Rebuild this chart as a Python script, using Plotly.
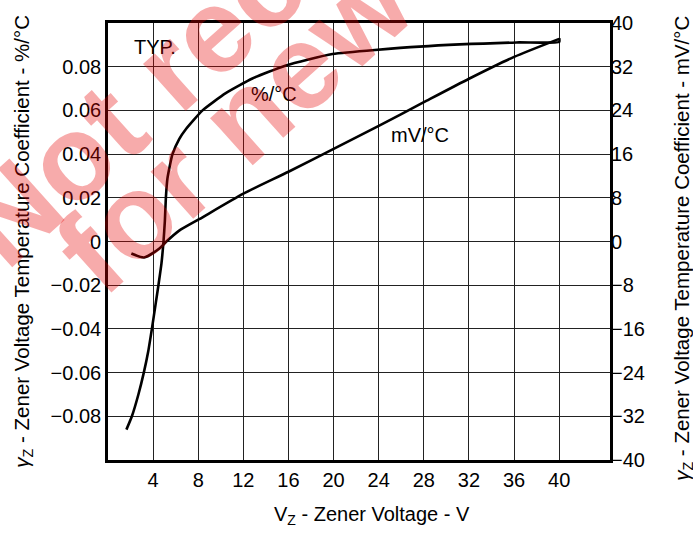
import plotly.graph_objects as go

# ---- data ----
vz_pct = [1.63, 2.11, 2.70, 3.18, 3.56, 3.89, 4.24, 4.47, 4.74, 4.92, 5.04, 5.13, 5.27, 5.71,
          6.31, 6.9, 8.38, 10.44, 12.8, 15.77, 19.9, 27.6, 36.2, 40.0, 40.0]
tc_pct = [-0.0861, -0.0801, -0.0699, -0.0599, -0.0505, -0.040, -0.028, -0.020, -0.010, 0.0,
          0.0094, 0.020, 0.0289, 0.0399, 0.0469, 0.0514, 0.060, 0.0679, 0.0746, 0.0806,
          0.0858, 0.0892, 0.0911, 0.0914, 0.0931]

vz_mv = [2.07, 3.2, 4.53, 5.13, 6.31, 8.08, 12, 16, 20, 24, 28, 32, 36, 40]
tc_mv = [-2.2, -2.93, -1.31, -0.1, 1.98, 4.08, 8.76, 12.77, 16.97, 21.16, 25.5, 29.8, 33.8, 37.1]

x_ticks = [4, 8, 12, 16, 20, 24, 28, 32, 36, 40]
y_left_ticks = [-0.08, -0.06, -0.04, -0.02, 0, 0.02, 0.04, 0.06, 0.08]
y_left_text = ["\u22120.08", "\u22120.06", "\u22120.04", "\u22120.02", "0", "0.02", "0.04", "0.06", "0.08"]
y_right_ticks = [-40, -32, -24, -16, -8, 0, 8, 16, 24, 32, 40]
y_right_text = ["\u221240", "\u221232", "\u221224", "\u221216", "\u22128", "0", "8", "16", "24", "32", "40"]

FONT = "Liberation Sans, Arial, sans-serif"
FS = 20

fig = go.Figure()
fig.add_trace(go.Scatter(x=vz_pct, y=tc_pct, mode="lines",
                         line=dict(color="black", width=2.6, shape="spline", smoothing=0.5),
                         yaxis="y", showlegend=False, hoverinfo="skip"))
fig.add_trace(go.Scatter(x=vz_mv, y=tc_mv, mode="lines",
                         line=dict(color="black", width=2.6, shape="spline", smoothing=0.6),
                         yaxis="y2", showlegend=False, hoverinfo="skip"))

fig.update_layout(
    width=693, height=533,
    margin=dict(l=108, r=83, t=15, b=73),
    paper_bgcolor="white", plot_bgcolor="white",
    font=dict(family=FONT, size=FS, color="black"),
    xaxis=dict(range=[0, 44.5], tickvals=x_ticks, ticktext=[str(v) for v in x_ticks],
               showgrid=True, gridcolor="#222", gridwidth=1, zeroline=False,
               showline=True, linecolor="black", linewidth=2.6, mirror=True,
               ticks="", tickfont=dict(size=FS), fixedrange=True),
    yaxis=dict(range=[-0.1, 0.1], tickvals=y_left_ticks, ticktext=y_left_text,
               showgrid=True, gridcolor="#222", gridwidth=1, zeroline=False,
               showline=True, linecolor="black", linewidth=2.6, mirror=True,
               ticks="", tickfont=dict(size=FS), fixedrange=True),
    yaxis2=dict(range=[-40, 40], tickvals=y_right_ticks, ticktext=y_right_text,
                overlaying="y", side="right", showgrid=False, zeroline=False,
                showline=False, ticks="", tickfont=dict(size=FS), fixedrange=True),
)

anns = []
# in-plot labels
anns.append(dict(text="TYP.", x=4.17, y=0.089, xref="x", yref="y", showarrow=False,
                 font=dict(size=FS), xanchor="center", yanchor="middle"))
anns.append(dict(text="%/\u00b0C", x=14.7, y=0.0676, xref="x", yref="y", showarrow=False,
                 font=dict(size=FS), xanchor="center", yanchor="middle"))
anns.append(dict(text="mV/\u00b0C", x=27.7, y=0.0486, xref="x", yref="y", showarrow=False,
                 font=dict(size=FS), xanchor="center", yanchor="middle"))
# axis titles
anns.append(dict(text="V<sub>Z</sub> - Zener Voltage - V", x=0.526, y=-0.128,
                 xref="paper", yref="paper", showarrow=False, font=dict(size=FS),
                 xanchor="center", yanchor="middle"))
anns.append(dict(text="<i>\u03b3</i><sub>Z</sub> - Zener Voltage Temperature Coefficient - %/\u00b0C",
                 x=-0.171, y=0.5, xref="paper", yref="paper", showarrow=False,
                 font=dict(size=20.5), textangle=-90, xanchor="center", yanchor="middle"))
anns.append(dict(text="<i>\u03b3</i><sub>Z</sub> - Zener Voltage Temperature Coefficient - mV/\u00b0C",
                 x=1.145, y=0.485, xref="paper", yref="paper", showarrow=False,
                 font=dict(size=20.5), textangle=-90, xanchor="center", yanchor="middle"))
# watermark
wm_color = "rgba(230,0,0,0.33)"
anns.append(dict(text="<b>Not recommended</b>", x=0.521, y=1.306, xref="paper", yref="paper",
                 showarrow=False, textangle=-42, font=dict(size=120, color=wm_color),
                 xanchor="center", yanchor="middle"))
anns.append(dict(text="<b>for new designs</b>", x=0.611, y=1.1355, xref="paper", yref="paper",
                 showarrow=False, textangle=-42, font=dict(size=120, color=wm_color),
                 xanchor="center", yanchor="middle"))
fig.update_layout(annotations=anns)

fig.write_html("out.html")
